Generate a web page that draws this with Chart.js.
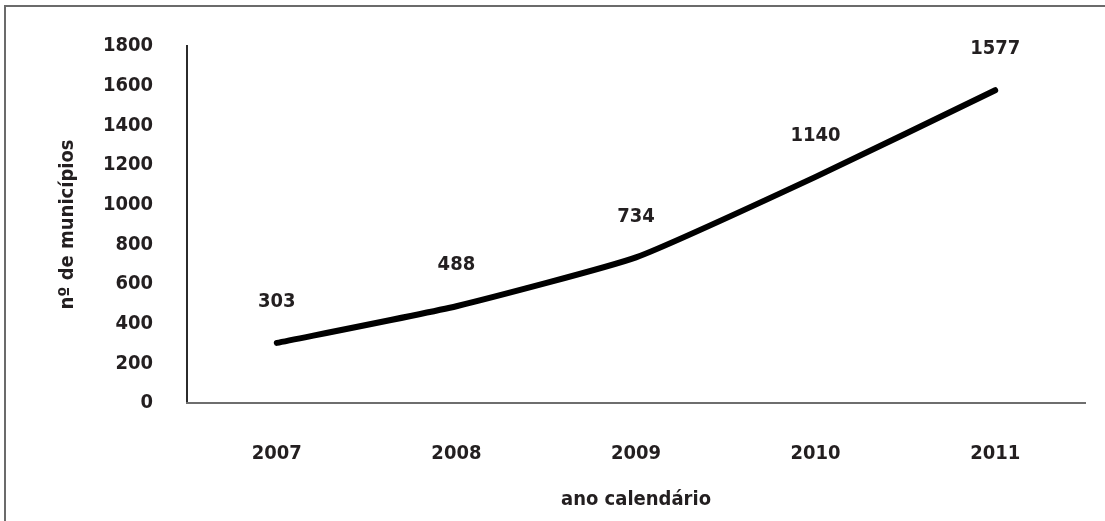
<!DOCTYPE html>
<html>
<head>
<meta charset="utf-8">
<script src="https://cdn.jsdelivr.net/npm/chart.js@4"></script>
<style>
    html, body { margin: 0; padding: 0; background: #fff; overflow: hidden; }
    #frame {
        position: absolute; left: 4px; top: 5px;
        width: 1200px; height: 700px;
        border: 2px solid #6b6b6b;
    }
    #revenueChart { position: absolute; left: 0; top: 0; }
</style>
</head>
<body>
<div id="frame"></div>
<canvas id="revenueChart" width="1105" height="521"></canvas>
<script>
// data
const anos = ["2007", "2008", "2009", "2010", "2011"];
const municipios = [303, 488, 734, 1140, 1577];
const yMin = 0;
const yMax = 1800;
const yStep = 200;

const fontFamily = "'Liberation Sans Narrow', 'DejaVu Sans Condensed', 'Arial Narrow', sans-serif";
const textColor = "#231f20";

// draws the value above each point
const valueLabels = {
    id: "valueLabels",
    afterDatasetsDraw(chart) {
        const ctx = chart.ctx;
        const meta = chart.getDatasetMeta(0);
        ctx.save();
        ctx.font = "bold 20px " + fontFamily;
        ctx.fillStyle = textColor;
        ctx.textAlign = "center";
        ctx.textBaseline = "middle";
        meta.data.forEach(function (pt, i) {
            ctx.fillText(String(chart.data.datasets[0].data[i]), pt.x, pt.y - 41);
        });
        ctx.restore();
    }
};

function initCharts() {
    createChart("revenueChart", {
        type: "line",
        data: {
            labels: anos,
            datasets: [
                {
                    label: "nº de municípios",
                    data: municipios,
                    borderColor: "#000",
                    borderWidth: 6,
                    borderCapStyle: "round",
                    borderJoinStyle: "round",
                    pointRadius: 0,
                    fill: false,
                    tension: 0.15,
                },
            ],
        },
        options: {
            responsive: false,
            animation: false,
            layout: { padding: { top: 45, right: 20, bottom: 0, left: 0 } },
            plugins: {
                legend: { display: false },
                tooltip: { enabled: false },
            },
            scales: {
                y: {
                    min: yMin,
                    max: yMax,
                    grid: { display: false, drawTicks: false },
                    border: { display: true, color: "#2b2b2b", width: 2 },
                    ticks: {
                        stepSize: yStep,
                        padding: 34,
                        color: textColor,
                        font: { family: fontFamily, size: 20, weight: "bold" },
                        callback: function (value) { return String(value); },
                    },
                    title: {
                        display: true,
                        text: "nº de municípios",
                        color: textColor,
                        padding: { top: 56, bottom: 0 },
                        font: { family: fontFamily, size: 20, weight: "bold" },
                    },
                    afterFit: function (scale) { scale.width = 187; },
                },
                x: {
                    offset: true,
                    grid: { display: false, drawTicks: false },
                    border: { display: true, color: "#6e6e6e", width: 2 },
                    ticks: {
                        padding: 39,
                        color: textColor,
                        font: { family: fontFamily, size: 20, weight: "bold" },
                    },
                    title: {
                        display: true,
                        text: "ano calendário",
                        color: textColor,
                        padding: { top: 0, bottom: 9 },
                        font: { family: fontFamily, size: 20, weight: "bold" },
                    },
                    afterFit: function (scale) { scale.height = 118; },
                },
            },
        },
        plugins: [valueLabels],
    });
}

function createChart(id, config) {
    const ctx = document.getElementById(id);
    if (!ctx) {
        console.error(`Canvas element with id '${id}' not found`);
        return;
    }
    if (ctx.chart) {
        ctx.chart.destroy();
    }
    ctx.chart = new Chart(ctx, config);
}

initCharts();
</script>
</body>
</html>
